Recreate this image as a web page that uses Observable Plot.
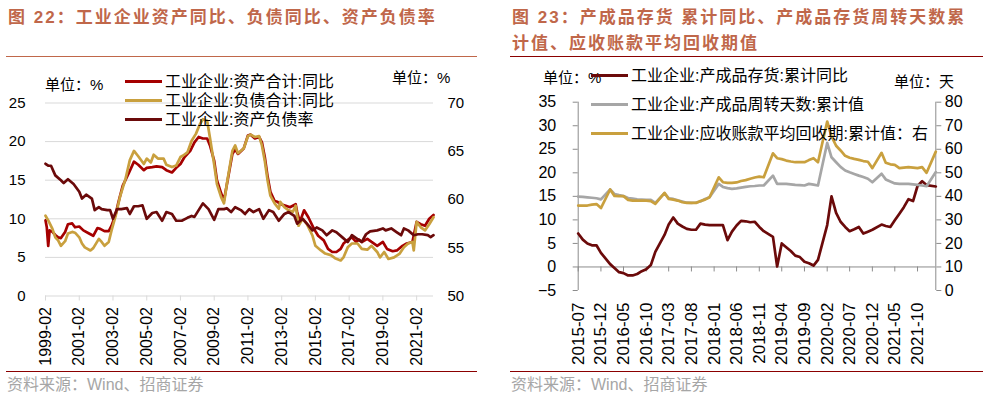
<!DOCTYPE html>
<html><head><meta charset="utf-8">
<script src="https://cdn.jsdelivr.net/npm/d3@7"></script>
<script src="https://cdn.jsdelivr.net/npm/@observablehq/plot@0.6"></script>
<style>
html,body{margin:0;padding:0;background:#fff;}
#page{position:relative;width:992px;height:398px;overflow:hidden;font-family:'Liberation Sans',Arial,'Noto Sans CJK SC',sans-serif;}
.abs{position:absolute;white-space:nowrap;}
.title{color:#C0674A;font-weight:bold;font-size:17px;letter-spacing:2px;line-height:26px;font-family:'Liberation Sans','Noto Sans CJK SC',sans-serif;}
.hr{position:absolute;height:0;}
.leg{position:absolute;white-space:nowrap;font-size:16px;line-height:18px;color:#000;font-family:'Liberation Sans','Noto Sans CJK SC',sans-serif;}
.leg .sw{display:inline-block;width:37px;height:3px;vertical-align:middle;margin-right:3px;position:relative;top:-1px;}
.unit{position:absolute;white-space:nowrap;font-size:15px;line-height:18px;color:#000;font-family:'Liberation Sans','Noto Sans CJK SC',sans-serif;}
.src{position:absolute;white-space:nowrap;font-size:16px;line-height:18px;color:#A6A6A6;font-family:'Liberation Sans','Noto Sans CJK SC',sans-serif;}
.plot{position:absolute;}
</style></head>
<body><div id="page"></div>
<script>
// ---------- Left chart data (图22) ----------
const leftTitle = "图 22：工业企业资产同比、负债同比、资产负债率";
const leftSeriesNames = ["工业企业:资产合计:同比", "工业企业:负债合计:同比", "工业企业:资产负债率"];
const leftXTicks = ["1999-02","2001-02","2003-02","2005-02","2007-02","2009-02","2011-02","2013-02","2015-02","2017-02","2019-02","2021-02"];
const leftXDomain = ["1999-02","2022-02"];
const leftYTicks = [0,5,10,15,20,25];
const leftYDomain = [0,25];
const leftY2Ticks = [50,55,60,65,70];
const leftY2Domain = [50,70];

const assetDates = ["1999-02","1999-03","1999-04","1999-05","1999-07","1999-09","1999-11","2000-01","2000-04","2000-06","2000-09","2000-11","2001-02","2001-05","2001-09","2001-12","2002-03","2002-05","2002-08","2002-11","2003-01","2003-04","2003-06","2003-09","2004-01","2004-05","2004-08","2004-12","2005-02","2005-06","2005-09","2006-01","2006-04","2006-08","2006-11","2007-02","2007-05","2007-09","2007-12","2008-03","2008-06","2008-09","2008-11","2009-02","2009-04","2009-07","2009-09","2009-11","2010-03","2010-05","2010-07","2010-11","2011-02","2011-04","2011-07","2011-10","2011-12","2012-02","2012-04","2012-06","2012-09","2012-11","2013-01","2013-05","2013-08","2013-12","2014-01","2014-03","2014-06","2014-09","2015-01","2015-04","2015-08","2015-11","2016-02","2016-05","2016-08","2016-10","2017-02","2017-04","2017-07","2017-09","2017-11","2018-03","2018-06","2018-10","2019-02","2019-05","2019-09","2019-12","2020-04","2020-07","2020-11","2021-02","2021-05","2021-08","2021-11","2022-02"];
const assetVals = [9.8,8.9,6.5,8.5,8.3,7.9,7.6,7.5,8.3,9.3,9.4,8.9,9.0,8.5,8.1,7.8,8.8,8.7,8.4,8.4,9.1,10.6,12.2,14.3,15.8,17.4,17.0,16.3,16.6,16.7,16.8,16.7,16.3,16.0,16.6,17.1,18.0,18.8,19.9,20.6,20.4,20.4,19.5,17.5,15.0,13.3,12.4,14.4,18.4,19.0,18.4,19.1,20.8,20.9,20.4,20.6,19.9,18.0,15.5,13.5,12.3,12.2,11.9,11.7,11.5,11.9,10.9,9.6,11.1,10.2,8.7,7.8,7.2,6.1,5.7,5.7,6.1,6.8,7.4,7.6,7.0,7.3,7.0,7.4,7.0,6.5,7.0,6.1,5.8,5.9,6.5,6.8,7.0,9.6,9.3,9.1,10.0,10.5];

const liabDates = ["1999-02","1999-04","1999-07","1999-09","1999-11","2000-01","2000-04","2000-06","2000-09","2000-11","2001-02","2001-04","2001-06","2001-10","2001-12","2002-04","2002-06","2002-08","2002-11","2003-01","2003-04","2003-07","2003-11","2004-02","2004-05","2004-08","2004-12","2005-02","2005-05","2005-07","2005-10","2006-02","2006-04","2006-08","2006-11","2007-02","2007-04","2007-07","2007-10","2008-01","2008-04","2008-06","2008-09","2008-11","2009-02","2009-04","2009-07","2009-09","2009-11","2010-03","2010-05","2010-07","2010-11","2011-02","2011-04","2011-07","2011-10","2011-12","2012-02","2012-04","2012-06","2012-09","2012-12","2013-01","2013-04","2013-07","2013-10","2013-12","2014-02","2014-05","2014-08","2014-12","2015-02","2015-06","2015-09","2016-01","2016-04","2016-08","2016-10","2017-01","2017-04","2017-08","2017-11","2018-03","2018-06","2018-10","2018-12","2019-03","2019-06","2019-10","2020-02","2020-05","2020-08","2020-11","2020-12","2021-02","2021-05","2021-08","2021-11","2022-02"];
const liabVals = [10.4,9.8,8.7,7.6,7.2,6.5,7.1,8.1,8.3,8.2,7.6,6.8,6.3,5.9,6.2,7.4,7.0,6.5,7.0,8.5,10.4,12.8,15.2,17.6,18.8,18.1,17.1,17.8,17.3,18.3,17.8,17.8,17.0,16.7,16.9,18.0,18.2,18.6,20.1,21.0,22.3,22.9,22.7,20.5,17.0,14.5,12.8,12.0,14.5,18.8,19.5,18.5,19.1,20.7,20.9,20.6,20.7,19.5,17.5,15.0,13.0,12.0,11.3,12.2,11.5,11.1,10.9,11.7,9.1,10.0,9.3,7.8,6.5,5.9,5.5,5.3,4.9,4.6,5.0,6.3,6.8,6.8,6.1,6.0,6.5,5.7,5.0,5.7,4.8,5.0,5.5,6.3,6.8,7.0,5.9,9.6,8.9,8.5,9.3,10.2];

const debtDates = ["1999-02","1999-04","1999-06","1999-09","2000-01","2000-03","2000-06","2000-10","2001-02","2001-04","2001-07","2001-11","2002-01","2002-04","2002-06","2002-10","2002-12","2003-02","2003-05","2003-08","2003-12","2004-02","2004-05","2004-08","2004-11","2005-02","2005-06","2005-09","2006-01","2006-04","2006-08","2006-11","2007-03","2007-07","2007-10","2007-12","2008-03","2008-06","2008-10","2009-02","2009-05","2009-09","2009-11","2010-02","2010-05","2010-09","2010-12","2011-03","2011-06","2011-10","2012-01","2012-05","2012-08","2012-12","2013-04","2013-07","2013-11","2014-01","2014-05","2014-08","2014-12","2015-03","2015-07","2015-10","2016-02","2016-05","2016-09","2017-01","2017-04","2017-08","2017-11","2018-02","2018-05","2018-10","2019-02","2019-04","2019-08","2019-12","2020-03","2020-05","2020-08","2020-12","2021-03","2021-06","2021-10","2021-12","2022-02"];
const debtVals = [63.7,63.5,63.5,62.5,62.0,61.7,62.1,61.6,60.8,60.1,60.5,60.1,58.9,59.2,59.0,58.9,58.9,58.0,59.0,59.0,59.1,58.5,59.3,59.3,59.4,58.0,58.6,58.7,57.8,58.7,58.5,57.8,57.8,58.1,58.3,58.2,58.9,59.6,59.0,57.9,59.0,59.0,59.1,58.7,59.2,58.9,58.5,59.0,58.7,59.0,58.0,58.9,58.7,57.8,58.5,58.7,58.3,57.5,58.0,57.5,56.8,57.1,56.8,56.3,56.8,56.6,56.1,55.6,56.3,55.9,55.6,56.4,56.7,56.8,57.0,56.8,57.0,56.6,56.3,57.0,56.8,56.3,56.4,56.4,56.3,56.1,56.3];

// ---------- Right chart data (图23) ----------
const rightTitle1 = "图 23：产成品存货 累计同比、产成品存货周转天数累";
const rightTitle2 = "计值、应收账款平均回收期值";
const rightSeriesNames = ["工业企业:产成品存货:累计同比", "工业企业:产成品周转天数:累计值", "工业企业:应收账款平均回收期:累计值：右"];
const rightXTicks = ["2015-07","2015-12","2016-05","2016-10","2017-03","2017-08","2018-01","2018-06","2018-11","2019-04","2019-09","2020-02","2020-07","2020-12","2021-05","2021-10"];
const rightXDomain = ["2015-07","2022-02"];
const rightYTicks = [-5,0,5,10,15,20,25,30,35];
const rightYDomain = [-5,35];
const rightY2Ticks = [0,10,20,30,40,50,60,70,80];
const rightY2Domain = [0,80];
const rightMonths = ["2015-07","2015-08","2015-09","2015-10","2015-11","2015-12",
"2016-02","2016-03","2016-04","2016-05","2016-06","2016-07","2016-08","2016-09","2016-10","2016-11","2016-12",
"2017-02","2017-03","2017-04","2017-05","2017-06","2017-07","2017-08","2017-09","2017-10","2017-11","2017-12",
"2018-02","2018-03","2018-04","2018-05","2018-06","2018-07","2018-08","2018-09","2018-10","2018-11","2018-12",
"2019-02","2019-03","2019-04","2019-05","2019-06","2019-07","2019-08","2019-09","2019-10","2019-11","2019-12",
"2020-02","2020-03","2020-04","2020-05","2020-06","2020-07","2020-08","2020-09","2020-10","2020-11","2020-12",
"2021-02","2021-03","2021-04","2021-05","2021-06","2021-07","2021-08","2021-09","2021-10","2021-11","2021-12",
"2022-02"];
const inventoryYoY = [7.1,5.8,5.0,4.6,4.6,3.0, 0.6,-0.2,-1.1,-1.3,-1.8,-1.8,-1.5,-0.9,-0.5,0.4,3.2, 6.8,9.0,10.5,9.2,8.6,8.1,7.9,7.9,9.2,9.0,8.9, 8.9,8.9,5.7,7.5,8.8,9.8,9.7,9.5,9.6,8.5,7.6, 6.4,0.1,5.0,4.2,3.4,2.4,2.1,1.1,0.8,0.3,1.5, 8.9,15.0,11.5,9.6,8.5,7.6,8.0,8.5,7.1,7.5,7.9, 9.0,8.7,8.5,9.9,11.3,12.7,14.4,14.0,17.2,18.2,17.4, 17.1];
const turnoverDays = [39.9,39.8,39.6,39.4,39.2,38.7, 42.9,41.0,40.5,40.1,39.3,39.0,38.7,38.6,38.5,38.5,37.2, 41.3,39.2,38.9,38.3,37.8,37.3,37.2,37.4,37.8,38.9,39.6, 45.3,44.0,43.5,43.2,43.4,43.7,44.0,44.3,44.4,44.6,44.6, 48.8,45.3,45.3,45.3,45.1,44.9,44.8,44.6,45.3,45.0,44.6, 62.7,56.6,54.5,52.5,51.0,50.2,49.5,48.8,48.2,47.5,46.0, 49.6,47.2,46.3,45.5,45.3,45.3,45.3,45.1,44.9,44.6,44.3, 50.3];
const receivableDays = [36.1,36.1,36.1,36.5,36.7,35.0, 42.9,40.2,40.1,40.1,38.5,38.2,38.2,38.2,38.2,38.0,36.8, 41.5,38.9,38.6,38.2,37.5,37.2,37.2,37.2,38.0,38.6,39.6, 48.1,46.0,45.7,45.7,45.9,46.5,46.9,47.5,48.0,48.4,48.1, 58.3,56.2,55.8,55.2,54.8,54.5,54.5,54.5,55.4,56.2,54.5, 71.8,65.5,61.5,59.5,57.2,56.4,55.9,55.5,55.0,54.7,52.0, 58.5,54.3,53.6,53.4,52.0,52.2,52.4,52.2,52.0,52.4,50.0, 59.0];

const sourceText = "资料来源：Wind、招商证券";

// ---------- styles ----------
const C_RED = "#A50000", C_GOLD = "#C9A03E", C_MAROON = "#6B0A0A", C_GRAY = "#A6A6A6";
const C_TITLE = "#C0674A", C_RULE_DARK = "#8B0000", C_GRID = "#D9D9D9", C_AXIS = "#8C8C8C";
const NUMFONT = "'Liberation Sans', Arial, sans-serif";

const P = d3.utcParse("%Y-%m");
const fmt = d3.utcFormat("%Y-%m");
const page = document.getElementById("page");

function add(cls, css, html) {
  const d = document.createElement("div");
  d.className = cls; d.style.cssText = css; d.innerHTML = html; page.appendChild(d); return d;
}

// map a right-axis value onto the left scale domain
const lin = (from, to) => v => to[0] + (v - from[0]) * (to[1] - to[0]) / (from[1] - from[0]);

// ---------- left chart ----------
const l2 = lin(leftY2Domain, leftYDomain);
const l2inv = lin(leftYDomain, leftY2Domain);
const assetData = assetDates.map((d,i) => ({date: P(d), v: assetVals[i]}));
const liabData = liabDates.map((d,i) => ({date: P(d), v: liabVals[i]}));
const debtData = debtDates.map((d,i) => ({date: P(d), v: l2(debtVals[i])}));

const leftPlot = Plot.plot({
  width: 490, height: 312,
  marginLeft: 45, marginRight: 57, marginTop: 42.5, marginBottom: 76.5,
  x: {type: "utc", domain: leftXDomain.map(P)},
  y: {domain: leftYDomain},
  style: {fontFamily: NUMFONT, fontSize: "15px", color: "#000", background: "none", overflow: "visible"},
  marks: [
    Plot.gridY(leftYTicks, {stroke: C_GRID, strokeOpacity: 1}),
    Plot.axisY(leftYTicks, {anchor: "left", label: null, tickSize: 0, tickPadding: 20, fontSize: 15}),
    Plot.axisY(leftY2Ticks.map(l2), {anchor: "right", label: null, tickSize: 0, tickPadding: 14, fontSize: 15, tickFormat: d => String(Math.round(l2inv(d)))}),
    Plot.axisX(leftXTicks.map(P), {anchor: "bottom", label: null, tickSize: 5, stroke: C_GRID, strokeOpacity: 1, tickPadding: 6, tickRotate: -90, textAnchor: "end", lineAnchor: "middle", tickFormat: fmt, fontSize: 16}),
    Plot.line(assetData, {x: "date", y: "v", stroke: C_RED, strokeWidth: 2.7}),
    Plot.line(liabData, {x: "date", y: "v", stroke: C_GOLD, strokeWidth: 2.7}),
    Plot.line(debtData, {x: "date", y: "v", stroke: C_MAROON, strokeWidth: 2.7})
  ]
});
const lw = add("plot", "left:0px;top:60px;", ""); lw.appendChild(leftPlot);

// ---------- right chart ----------
const r2 = lin(rightY2Domain, rightYDomain);
const r2inv = lin(rightYDomain, rightY2Domain);
const invData = rightMonths.map((d,i) => ({date: P(d), v: inventoryYoY[i]}));
const turnData = rightMonths.map((d,i) => ({date: P(d), v: r2(turnoverDays[i])}));
const recvData = rightMonths.map((d,i) => ({date: P(d), v: r2(receivableDays[i])}));
const rxd = rightXDomain.map(P);

const rightPlot = Plot.plot({
  width: 496, height: 312,
  marginLeft: 81.7, marginRight: 56.7, marginTop: 41.7, marginBottom: 82,
  x: {type: "utc", domain: rxd},
  y: {domain: rightYDomain},
  style: {fontFamily: NUMFONT, fontSize: "15px", color: "#000", background: "none", overflow: "visible"},
  marks: [
    Plot.ruleX([rxd[0], rxd[1]], {y1: rightYDomain[0], y2: rightYDomain[1], stroke: C_AXIS}),
    Plot.ruleY([0], {stroke: C_AXIS}),
    Plot.ruleX(rightXTicks.map(P), {y1: 0, y2: 0, insetBottom: -5, stroke: C_AXIS}),
    Plot.axisY(rightYTicks, {anchor: "left", label: null, tickSize: 5, tickPadding: 17, stroke: C_AXIS, fontSize: 16}),
    Plot.axisY(rightY2Ticks.map(r2), {anchor: "right", label: null, tickSize: 5, tickPadding: 4, stroke: C_AXIS, fontSize: 16, tickFormat: d => String(Math.round(r2inv(d)))}),
    Plot.axisX(rightXTicks.map(P), {anchor: "bottom", label: null, tickSize: 0, tickPadding: 12, tickRotate: -90, textAnchor: "end", lineAnchor: "middle", tickFormat: fmt, fontSize: 17}),
    Plot.line(invData, {x: "date", y: "v", stroke: C_MAROON, strokeWidth: 2.7}),
    Plot.line(turnData, {x: "date", y: "v", stroke: C_GRAY, strokeWidth: 2.7}),
    Plot.line(recvData, {x: "date", y: "v", stroke: C_GOLD, strokeWidth: 2.7})
  ]
});
const rw = add("plot", "left:496px;top:60px;", ""); rw.appendChild(rightPlot);

// ---------- text, legends, rules ----------
add("abs title", "left:8px;top:5px;", leftTitle);
add("abs title", "left:512px;top:5px;", rightTitle1 + "<br>" + rightTitle2);
add("hr", `left:6px;top:56px;width:471px;border-top:1px solid ${C_TITLE};`, "");
add("hr", `left:510px;top:55.5px;width:473px;border-top:1.5px solid ${C_RULE_DARK};`, "");
add("hr", `left:6px;top:371px;width:471px;border-top:1.2px solid ${C_RULE_DARK};`, "");
add("hr", `left:510px;top:371px;width:473px;border-top:1.2px solid ${C_RULE_DARK};`, "");

add("unit", "left:45px;top:76px;", "单位：%");
add("unit", "left:392px;top:69px;", "单位：%");
add("unit", "left:543px;top:69px;", "单位：%");
add("unit", "left:894px;top:73px;", "单位：天");

const leftLegColors = [C_RED, C_GOLD, C_MAROON];
const leftLegTops = [72.7, 91.7, 111];
leftSeriesNames.forEach((n,i) => add("leg", `left:125px;top:${leftLegTops[i]}px;`, `<span class="sw" style="background:${leftLegColors[i]}"></span>${n}`));
const rightLegColors = [C_MAROON, C_GRAY, C_GOLD];
const rightLegTops = [67, 96, 125];
rightSeriesNames.forEach((n,i) => add("leg", `left:591px;top:${rightLegTops[i]}px;`, `<span class="sw" style="background:${rightLegColors[i]}"></span>${n}`));

add("src", "left:7px;top:376px;", sourceText);
add("src", "left:511px;top:376px;", sourceText);
</script>
</body></html>
